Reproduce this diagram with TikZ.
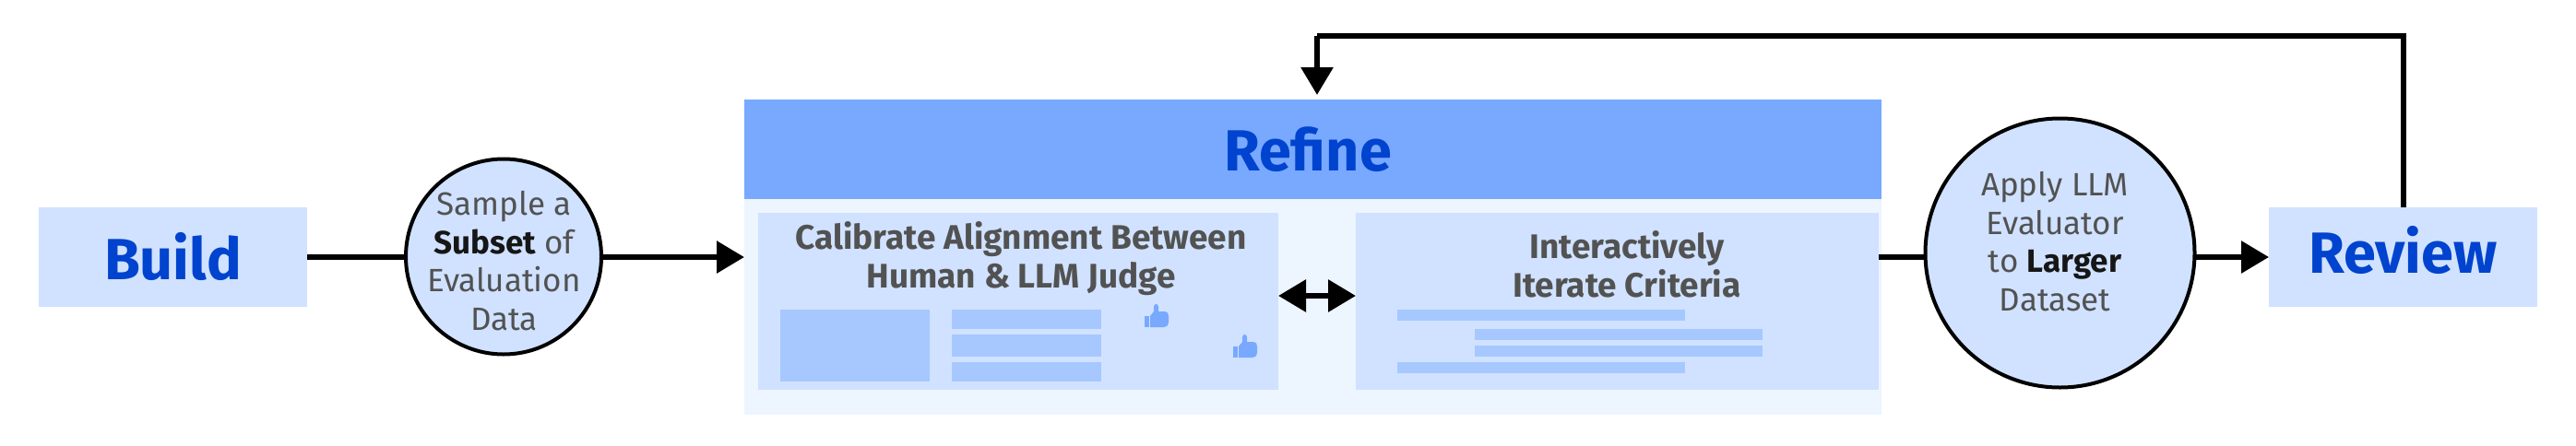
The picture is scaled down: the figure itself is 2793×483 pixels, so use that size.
\documentclass[tikz,border=0pt]{standalone}
\usepackage{fontspec}
\setmainfont{Fira Sans}
\usetikzlibrary{arrows.meta}

\definecolor{blueA}{HTML}{EDF5FF}
\definecolor{blueB}{HTML}{D0E2FF}
\definecolor{blueC}{HTML}{A6C8FF}
\definecolor{blueD}{HTML}{78A9FF}
\definecolor{blueE}{HTML}{0043CE}
\definecolor{greyText}{HTML}{525252}
\definecolor{darkText}{HTML}{161616}

\tikzset{
  box/.style={fill=#1,inner sep=0pt,outer sep=0pt},
  stagebox/.style={box=blueB,minimum width=291pt,minimum height=108pt},
  stagetext/.style={text=blueE,inner sep=0pt,font=\fontsize{63}{63}\selectfont\bfseries},
  roundbox/.style={circle,draw=black,line width=4pt,fill=blueB,inner sep=0pt,outer sep=0pt},
  smalltext/.style={text=greyText,align=center,inner sep=0pt,font=\fontsize{35}{41.5}\selectfont},
  headtext/.style={text=greyText,align=center,inner sep=0pt,font=\fontsize{37}{42}\selectfont\bfseries},
  link/.style={black,line width=6pt},
  arrowlink/.style={link,-{Triangle[length=30pt,width=34pt]}},
  bothlink/.style={link,{Triangle[length=30pt,width=34pt]}-{Triangle[length=30pt,width=34pt]}},
  barfill/.style={fill=blueC},
  thumbfill/.style={fill=blueD}
}

\newcommand{\boldword}[1]{\textcolor{darkText}{\bfseries #1}}

\begin{document}
\begin{tikzpicture}[x=1pt,y=-1pt]

\useasboundingbox (0,0) rectangle (2793,483);

% panel with its header
\node[box=blueA,minimum width=1233pt,minimum height=342pt] (panel) at (1423.5,279) {};
\node[box=blueD,minimum width=1233pt,minimum height=108pt] (header) at (1423.5,162) {};
\node[stagetext] (refine) at (1418,162) {Refine};

% two inner boxes
\node[box=blueB,minimum width=564pt,minimum height=192pt] (calibrate) at (1104,327) {};
\node[box=blueB,minimum width=567pt,minimum height=192pt] (iterate) at (1753.5,327) {};
\node[headtext] (calibratetext) at (1107,281) {Calibrate Alignment Between\\Human \& LLM Judge};
\node[headtext] (iteratetext) at (1764,287) {Interactively\\Iterate Criteria};

% placeholder blocks, left box
\fill[barfill] (846,336) rectangle (1008,414);
\fill[barfill] (1032,336) rectangle (1194,357);
\fill[barfill] (1032,363) rectangle (1194,387);
\fill[barfill] (1032,393) rectangle (1194,414);

% placeholder lines, right box
\fill[barfill] (1515,336) rectangle (1827,348);
\fill[barfill] (1599,357) rectangle (1911,369);
\fill[barfill] (1599,375) rectangle (1911,387);
\fill[barfill] (1515,393) rectangle (1827,405);

% thumbs
\foreach \tx/\ty in {1241/330,1337/363} {
  \begin{scope}[shift={(\tx,\ty)}]
    \fill[thumbfill] (0,13) rectangle (5,25);
    \fill[thumbfill] (6,25) -- (6,13) -- (10,8) -- (10,3) .. controls (10,-1) and (15,-1) .. (15,3)
      -- (15,8) -- (22,8) .. controls (25,8) and (26,10) .. (26,13) -- (26,20)
      .. controls (26,23) and (24,25) .. (21,25) -- cycle;
  \end{scope}
}

% stages
\node[stagebox] (build) at (187.5,279) {};
\node[stagebox] (review) at (2605.5,279) {};
\node[stagetext] (buildtext) at (187.5,278) {Build};
\node[stagetext] (reviewtext) at (2605.5,271) {Review};

% circles
\node[roundbox,minimum size=212pt] (sample) at (546,278.5) {};
\node[roundbox,minimum size=292pt] (apply) at (2233.5,274.5) {};

% connectors
\coordinate (corner) at (1428,39);
\coordinate (drop) at (1428,103);
\draw[link] (build.east) -- (sample.west |- build.east);
\draw[arrowlink] (sample.east |- panel.west) -- (panel.west);
\draw[link] (iterate.east |- panel.east) -- (apply.west |- panel.east);
\draw[arrowlink] (apply.east |- review.west) -- (review.west);
\draw[bothlink] (calibrate.east) ++(0,-6) -- (iterate.west |- 0,321);
\draw[link] (review.north) |- (corner);
\draw[arrowlink] (corner) -- (drop);

% circle texts
\node[smalltext] (sampletext) at (546.5,283) {Sample a\\\boldword{Subset} of\\Evaluation\\Data};
\node[smalltext] (applytext) at (2228,262) {Apply LLM\\Evaluator\\to \boldword{Larger}\\Dataset};

\end{tikzpicture}
\end{document}
